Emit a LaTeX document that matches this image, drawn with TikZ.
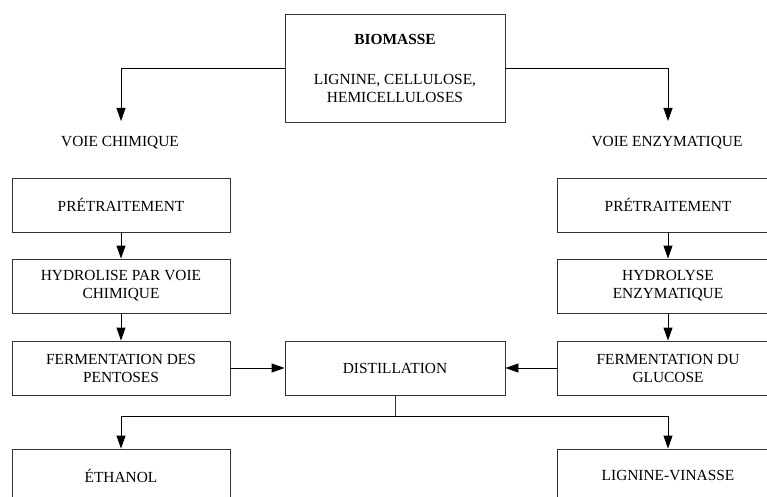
\documentclass[tikz,border=0pt]{standalone}
\usepackage{fontspec}
\setmainfont{Liberation Serif}
\usetikzlibrary{arrows.meta}
\begin{document}
\begin{tikzpicture}[x=1pt,y=-1pt,
  txt/.style={font=\fontsize{15.4}{18}\selectfont},
  box/.style={txt,draw=black!80,line width=0.9pt,minimum height=54pt,align=center,inner sep=0pt},
  lbox/.style={box,minimum width=218pt},
  rbox/.style={box,minimum width=222pt},
  lbl/.style={txt,inner sep=0pt},
  arr/.style={draw=black,line width=0.9pt,-{Triangle[length=13pt,width=9pt]}},
  ln/.style={draw=black!80,line width=0.9pt}]
\useasboundingbox (0,0) rectangle (767,497);

\node[box,minimum width=220pt,minimum height=108pt] (bio) at (395,68)
  {\textbf{BIOMASSE}\\[22pt]LIGNINE, CELLULOSE,\\HEMICELLULOSES};

\node[lbl] (vc) at (120,143) {VOIE CHIMIQUE};
\node[lbl] (ve) at (667,143) {VOIE ENZYMATIQUE};
\coordinate (vct) at (121,121);
\coordinate (vet) at (668,121);
\draw[arr] (bio.west) -| (vct);
\draw[arr] (bio.east) -| (vet);

\node[lbox] (lp) at (121,205) {PRÉTRAITEMENT};
\node[lbox] (lh) at (121,286) {HYDROLISE PAR VOIE\\CHIMIQUE};
\node[lbox] (lf) at (121,368) {FERMENTATION DES\\PENTOSES};
\node[lbox] (le) at (121,476) {ÉTHANOL};

\node[rbox] (rp) at (668,205) {PRÉTRAITEMENT};
\node[rbox] (rh) at (668,286) {HYDROLYSE\\ENZYMATIQUE};
\node[rbox] (rf) at (668,368) {FERMENTATION DU\\GLUCOSE};
\node[rbox] (rl) at (668,476) {LIGNINE-VINASSE};

\node[box,minimum width=220pt] (dist) at (395,368) {DISTILLATION};

\draw[arr] (lp.south) -- (lh.north);
\draw[arr] (lh.south) -- (lf.north);
\draw[arr] (rp.south) -- (rh.north);
\draw[arr] (rh.south) -- (rf.north);
\draw[arr] (lf.east) -- (dist.west);
\draw[arr] (rf.west) -- (dist.east);

\coordinate (split) at (395,416);
\draw[ln] (dist.south) -- (split);
\draw[arr] (split) -| (le.north);
\draw[arr] (split) -| (rl.north);
\end{tikzpicture}
\end{document}
